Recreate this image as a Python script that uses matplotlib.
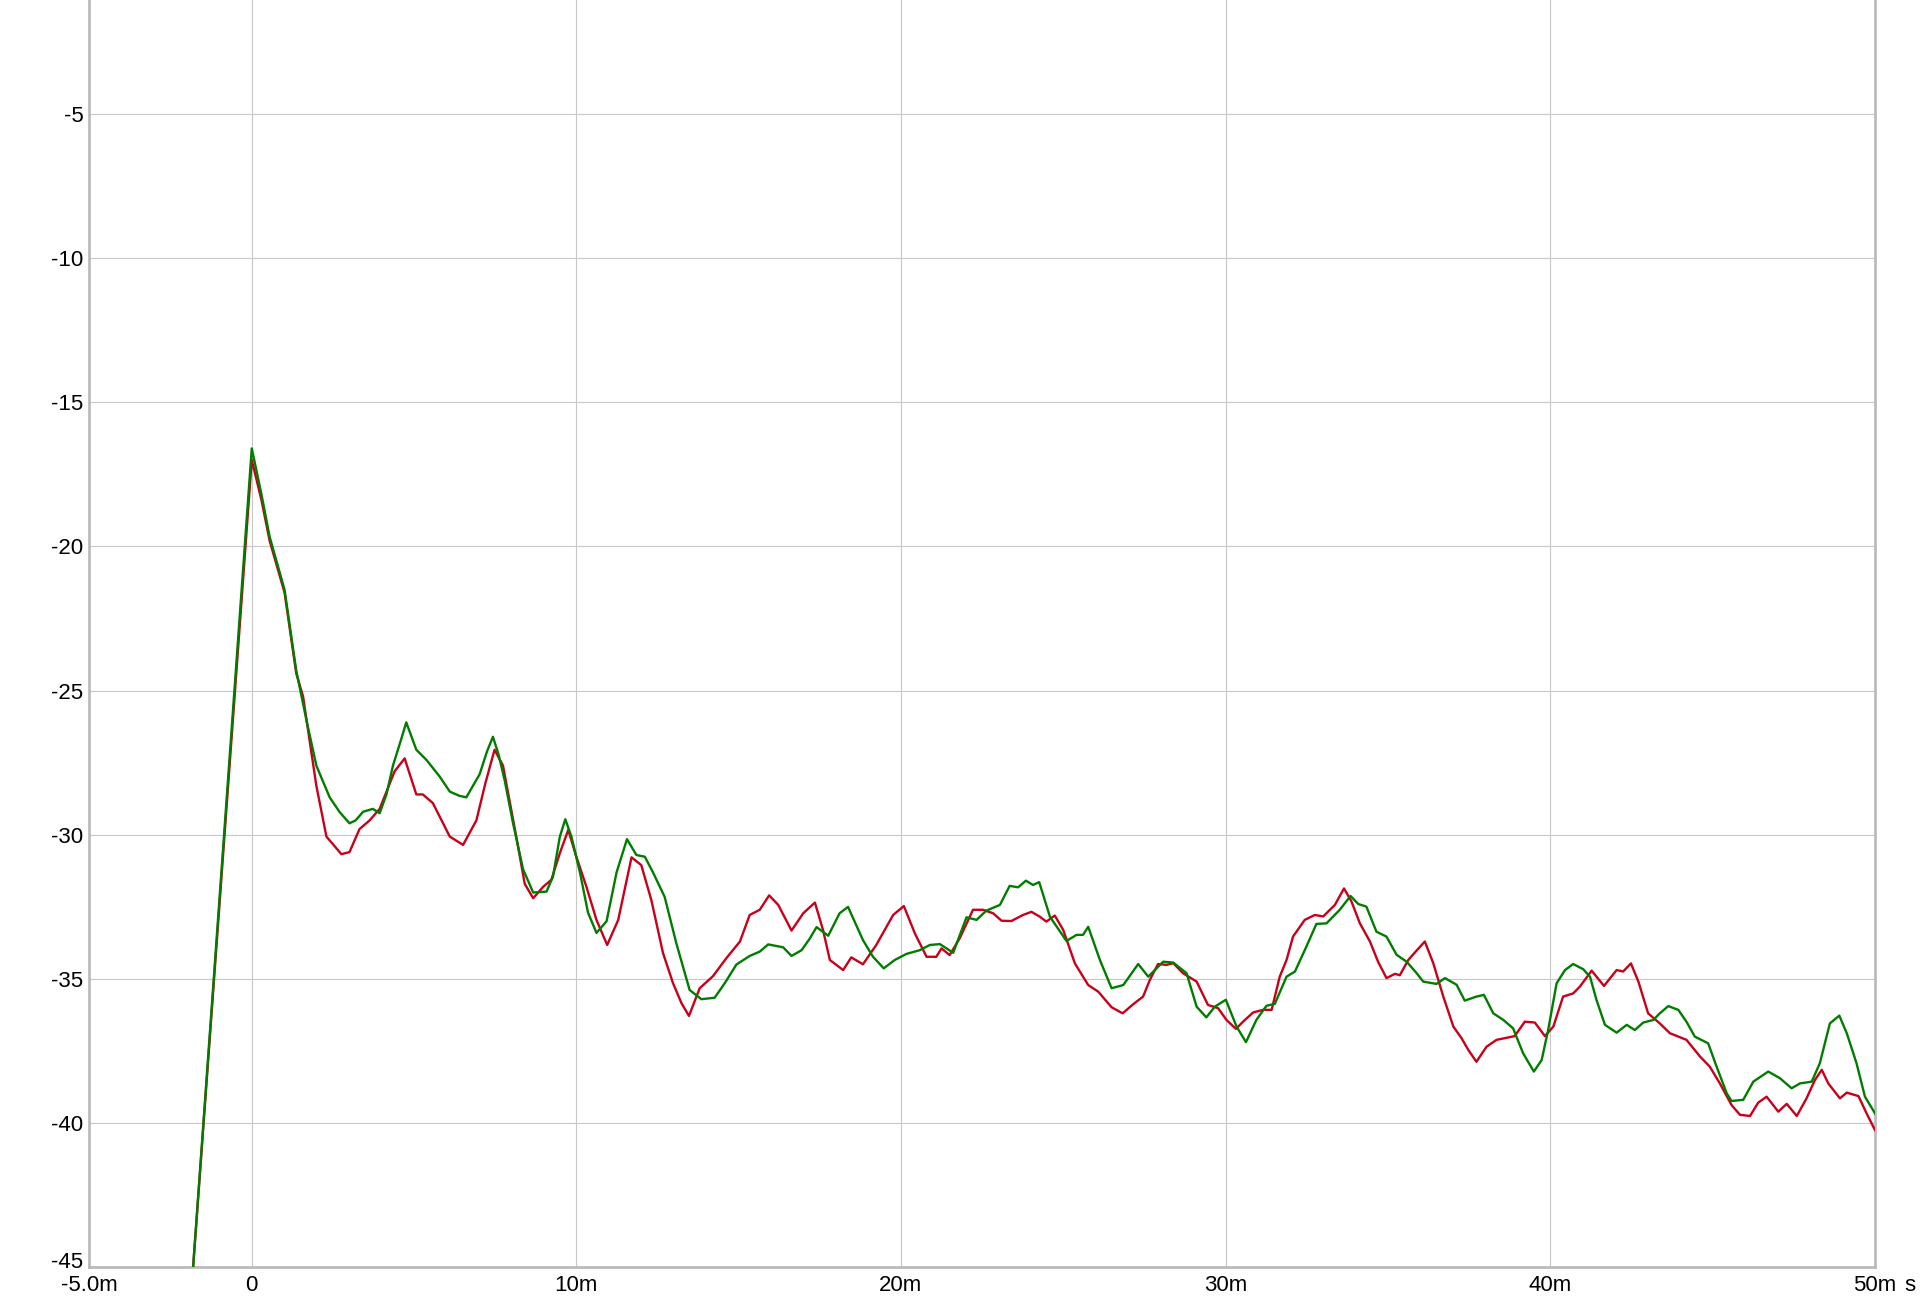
import matplotlib
matplotlib.use("Agg")
import matplotlib.pyplot as plt
import matplotlib.transforms as mtransforms

plt.rcParams["font.family"] = ["Liberation Sans", "DejaVu Sans"]

# time in ms, level in dB
t_green = [-2.0, 0.0, 0.3, 0.55, 1.01, 1.37, 1.68, 1.99, 2.4, 2.7, 3.01, 3.2, 3.43, 3.73, 3.94,
           4.15, 4.35, 4.6, 4.76, 5.07, 5.38, 5.79, 6.1, 6.4, 6.61, 7.02, 7.25, 7.43, 7.6, 7.79,
           8.05, 8.36, 8.67, 9.08, 9.28, 9.49, 9.66, 9.85, 10.11, 10.36, 10.62, 10.93, 11.24,
           11.56, 11.85, 12.11, 12.36, 12.72, 13.08, 13.49, 13.85, 14.26, 14.57, 14.93, 15.34,
           15.65, 15.91, 16.37, 16.63, 16.94, 17.19, 17.4, 17.76, 18.11, 18.37, 18.83, 19.14,
           19.47, 19.81, 20.17, 20.58, 20.89, 21.2, 21.61, 22.02, 22.33, 22.63, 23.05, 23.35,
           23.61, 23.85, 24.07, 24.26, 24.59, 25.1, 25.41, 25.61, 25.77, 26.13, 26.49, 26.85,
           27.31, 27.62, 28.08, 28.39, 28.8, 29.11, 29.41, 29.67, 30.01, 30.34, 30.63, 30.95,
           31.26, 31.52, 31.88, 32.14, 32.49, 32.8, 33.11, 33.52, 33.85, 34.09, 34.34, 34.65,
           34.96, 35.27, 35.58, 35.89, 36.09, 36.5, 36.76, 37.12, 37.37, 37.73, 37.96, 38.25,
           38.56, 38.86, 39.17, 39.5, 39.74, 39.94, 40.2, 40.46, 40.71, 41.02, 41.23, 41.43,
           41.69, 42.05, 42.36, 42.61, 42.87, 43.18, 43.38, 43.64, 43.95, 44.2, 44.46, 44.87,
           45.13, 45.44, 45.59, 45.95, 46.26, 46.72, 47.08, 47.44, 47.7, 48.06, 48.31, 48.62,
           48.91, 49.14, 49.44, 49.7, 50.01]
db_green = [-48.0, -16.6, -18.2, -19.66, -21.5, -24.3, -26.0, -27.6, -28.7, -29.2, -29.6, -29.5,
            -29.2, -29.1, -29.25, -28.6, -27.6, -26.7, -26.1, -27.05, -27.4, -27.98, -28.5,
            -28.65, -28.7, -27.9, -27.1, -26.6, -27.2, -28.1, -29.6, -31.2, -32.0, -31.97,
            -31.45, -30.07, -29.46, -30.07, -31.3, -32.7, -33.4, -33.0, -31.3, -30.15, -30.7,
            -30.76, -31.3, -32.15, -33.76, -35.38, -35.7, -35.65, -35.15, -34.5, -34.2, -34.05,
            -33.8, -33.9, -34.2, -34.0, -33.6, -33.2, -33.5, -32.72, -32.5, -33.65, -34.23,
            -34.63, -34.34, -34.13, -34.0, -33.82, -33.79, -34.09, -32.86, -32.95, -32.63,
            -32.43, -31.77, -31.82, -31.59, -31.74, -31.64, -32.84, -33.68, -33.47, -33.47,
            -33.19, -34.34, -35.32, -35.21, -34.48, -34.92, -34.4, -34.43, -34.8, -35.96,
            -36.33, -35.96, -35.72, -36.65, -37.19, -36.42, -35.93, -35.86, -34.92, -34.74,
            -33.88, -33.09, -33.07, -32.6, -32.12, -32.4, -32.49, -33.36, -33.53, -34.16,
            -34.4, -34.8, -35.09, -35.17, -34.97, -35.2, -35.75, -35.61, -35.55, -36.19,
            -36.42, -36.71, -37.58, -38.21, -37.81, -36.77, -35.15, -34.69, -34.48, -34.66,
            -34.92, -35.73, -36.59, -36.86, -36.59, -36.77, -36.51, -36.42, -36.19, -35.94,
            -36.07, -36.48, -37.0, -37.23, -38.04, -38.96, -39.23, -39.19, -38.56, -38.21,
            -38.44, -38.79, -38.62, -38.56, -37.92, -36.54, -36.27, -36.88, -37.92, -39.08,
            -39.66]

t_red = [-2.0, 0.0, 0.3, 0.55, 1.01, 1.37, 1.58, 1.99, 2.3, 2.76, 3.01, 3.32, 3.63, 3.94, 4.4,
         4.71, 5.07, 5.27, 5.58, 6.1, 6.51, 6.92, 7.2, 7.48, 7.74, 8.15, 8.41, 8.67, 8.98, 9.23,
         9.49, 9.75, 10.0, 10.31, 10.62, 10.95, 11.29, 11.7, 12.0, 12.31, 12.67, 12.98, 13.24,
         13.47, 13.8, 14.21, 14.62, 15.04, 15.34, 15.65, 15.94, 16.22, 16.63, 16.99, 17.35,
         17.6, 17.81, 18.22, 18.47, 18.83, 19.24, 19.76, 20.09, 20.43, 20.79, 21.09, 21.25,
         21.5, 21.81, 22.22, 22.53, 22.84, 23.1, 23.4, 23.76, 24.02, 24.28, 24.48, 24.74,
         25.0, 25.36, 25.77, 26.08, 26.49, 26.83, 27.16, 27.46, 27.67, 27.92, 28.18, 28.39,
         28.69, 29.11, 29.46, 29.77, 30.03, 30.32, 30.54, 30.85, 31.16, 31.42, 31.67, 31.88,
         32.08, 32.44, 32.75, 33.01, 33.37, 33.65, 33.88, 34.14, 34.45, 34.7, 34.96, 35.22,
         35.37, 35.63, 35.89, 36.14, 36.4, 36.71, 37.02, 37.27, 37.48, 37.73, 38.04, 38.35,
         38.91, 39.22, 39.53, 39.84, 40.1, 40.4, 40.71, 40.92, 41.28, 41.66, 42.05, 42.25,
         42.49, 42.72, 43.02, 43.38, 43.69, 44.2, 44.62, 44.92, 45.23, 45.59, 45.85, 46.16,
         46.41, 46.67, 47.03, 47.29, 47.6, 47.9, 48.16, 48.37, 48.57, 48.93, 49.14, 49.5,
         49.75, 50.01]
db_red = [-48.0, -17.0, -18.4, -19.8, -21.6, -24.4, -25.2, -28.3, -30.06, -30.67, -30.6, -29.8,
          -29.5, -29.1, -27.8, -27.35, -28.6, -28.6, -28.9, -30.06, -30.35, -29.5, -28.2,
          -27.05, -27.6, -30.07, -31.7, -32.2, -31.8, -31.56, -30.64, -29.83, -30.76, -31.8,
          -32.95, -33.82, -32.95, -30.78, -31.05, -32.26, -34.1, -35.15, -35.84, -36.28,
          -35.32, -34.9, -34.28, -33.7, -32.78, -32.6, -32.1, -32.43, -33.32, -32.72, -32.35,
          -33.3, -34.34, -34.69, -34.25, -34.49, -33.82, -32.78, -32.47, -33.42, -34.23,
          -34.23, -33.94, -34.17, -33.59, -32.6, -32.6, -32.72, -32.98, -32.99, -32.78,
          -32.67, -32.84, -33.01, -32.8, -33.3, -34.46, -35.21, -35.44, -35.98, -36.19,
          -35.87, -35.61, -35.03, -34.48, -34.51, -34.45, -34.8, -35.09, -35.9, -36.01,
          -36.42, -36.73, -36.48, -36.16, -36.07, -36.07, -34.92, -34.34, -33.53, -32.95,
          -32.78, -32.83, -32.43, -31.86, -32.31, -33.07, -33.7, -34.4, -34.97, -34.82,
          -34.87, -34.34, -34.01, -33.7, -34.45, -35.61, -36.65, -37.05, -37.46, -37.87,
          -37.35, -37.11, -36.98, -36.48, -36.51, -36.98, -36.65, -35.61, -35.5, -35.26,
          -34.71, -35.24, -34.69, -34.74, -34.46, -35.09, -36.19, -36.54, -36.88, -37.11,
          -37.69, -38.04, -38.62, -39.37, -39.71, -39.75, -39.29, -39.08, -39.6, -39.33,
          -39.75, -39.14, -38.5, -38.15, -38.62, -39.14, -38.94, -39.06, -39.66, -40.24]

x_ticks = [-5, 0, 10, 20, 30, 40, 50]
x_tick_labels = ["-5.0m", "0", "10m", "20m", "30m", "40m", "50m"]
y_ticks = [-45, -40, -35, -30, -25, -20, -15, -10, -5]
y_tick_labels = ["-45", "-40", "-35", "-30", "-25", "-20", "-15", "-10", "-5"]

fig = plt.figure(figsize=(19.2, 13), dpi=100)
ax = fig.add_axes([0.0466, 0.0251, 0.9298, 0.9749])

ax.plot(t_red, db_red, color="#c8001a", lw=1.7, solid_joinstyle="round", zorder=3)
ax.plot(t_green, db_green, color="#007d00", lw=1.7, solid_joinstyle="round", zorder=4)

ax.set_xlim(-5, 50)
ax.set_ylim(-45, -1.05)
ax.set_xticks(x_ticks)
ax.set_xticklabels(x_tick_labels)
ax.set_yticks(y_ticks)
ax.set_yticklabels(y_tick_labels)
ax.tick_params(axis="both", length=0, labelsize=16, colors="black")
ax.tick_params(axis="x", pad=5.5)
ax.tick_params(axis="y", pad=4.3)
ax.grid(True, color="#c8c8c8", lw=0.8)
ax.set_axisbelow(True)

# lift the bottom y label a little so it clears "-5.0m"
lift = mtransforms.ScaledTranslation(0, 5 / 72, fig.dpi_scale_trans)
bottom_label = ax.get_yticklabels()[0]
bottom_label.set_transform(bottom_label.get_transform() + lift)

for side in ["left", "bottom", "right"]:
    ax.spines[side].set_color("#b8b8b8")
    ax.spines[side].set_linewidth(1.9)
ax.spines["top"].set_visible(False)

# unit after the last tick label
ax.annotate("s", xy=(50, 0), xycoords=("data", "axes fraction"),
            xytext=(21.5, -5.5), textcoords="offset points",
            ha="left", va="top", fontsize=16)

fig.savefig("out.png", dpi=100)
